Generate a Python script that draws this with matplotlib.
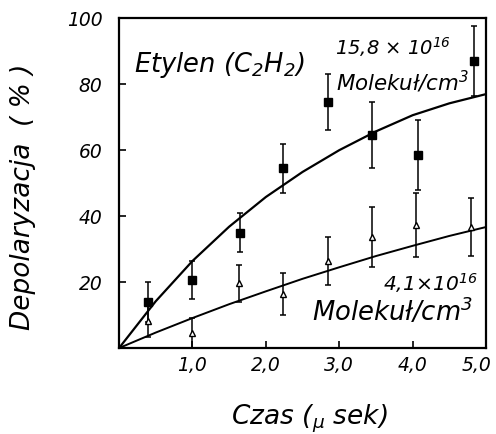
import matplotlib
matplotlib.use("Agg")
import matplotlib.pyplot as plt
from matplotlib.transforms import ScaledTranslation

# dane
czas_kw = [0.4, 1.0, 1.65, 2.23, 2.85, 3.45, 4.07, 4.84]
dep_kw = [14.0, 20.6, 35.0, 54.5, 74.5, 64.5, 58.5, 87.0]
err_kw = [6.0, 5.7, 6.0, 7.5, 8.5, 10.0, 10.5, 10.5]

czas_tr = [0.39, 1.0, 1.63, 2.23, 2.84, 3.45, 4.05, 4.8]
dep_tr = [8.2, 4.5, 19.7, 16.4, 26.4, 33.7, 37.3, 36.7]
err_tr = [4.8, 4.5, 5.6, 6.3, 7.2, 9.0, 9.6, 8.8]

czas_krz = [0.0, 0.5, 1.0, 1.5, 2.0, 2.5, 3.0, 3.5, 4.0, 4.5, 5.0]
krzywa_gora = [0.0, 14.2, 26.4, 36.8, 45.8, 53.4, 60.0, 65.7, 70.6, 74.2, 77.0]
krzywa_dol = [0.0, 4.7, 9.1, 13.3, 17.2, 21.0, 24.5, 27.9, 31.0, 34.0, 36.7]

xticks = [1, 2, 3, 4, 5]
xlabels = ["1,0", "2,0", "3,0", "4,0", "5,0"]
yticks = [20, 40, 60, 80, 100]

plt.rcParams["font.family"] = ["DejaVu Sans"]
plt.rcParams["font.style"] = "italic"
plt.rcParams["mathtext.fontset"] = "custom"
plt.rcParams["mathtext.rm"] = "DejaVu Sans:italic"
plt.rcParams["mathtext.it"] = "DejaVu Sans:italic"

fig = plt.figure(figsize=(4.96, 4.34), dpi=100)
ax = fig.add_axes([0.240, 0.198, 0.740, 0.760])

ax.plot(czas_krz, krzywa_gora, color="black", linewidth=1.6)
ax.plot(czas_krz, krzywa_dol, color="black", linewidth=1.4)

ax.errorbar(czas_kw, dep_kw, yerr=err_kw, fmt="s", color="black", markersize=6,
            elinewidth=1.1, capsize=2.5, capthick=1.1)
ax.errorbar(czas_tr, dep_tr, yerr=err_tr, fmt="^", color="black", mfc="white",
            markersize=5, elinewidth=1.1, capsize=2.5, capthick=1.1)

ax.set_xlim(0, 5)
ax.set_ylim(0, 100)
ax.set_xticks(xticks)
ax.set_xticklabels(xlabels)
ax.set_yticks(yticks)
ax.tick_params(direction="in", length=5, width=1.2, labelsize=13.5)
ax.tick_params(axis="x", pad=6)
ax.tick_params(axis="y", pad=12)
for s in ax.spines.values():
    s.set_linewidth(1.6)

# ostatnia etykieta troche w lewo, jak w oryginale
ostatnia = ax.get_xticklabels()[-1]
ostatnia.set_transform(ostatnia.get_transform() + ScaledTranslation(-10 / 100, 0, fig.dpi_scale_trans))

ax.set_xlabel(r"Czas ($_{μ}$ sek)", fontsize=19)
ax.xaxis.set_label_coords(0.52, -0.165)
ax.set_ylabel("Depolaryzacja  ( % )", fontsize=19)
ax.yaxis.set_label_coords(-0.225, 0.46)

ax.text(0.2, 85.8, r"Etylen (C$_2$H$_2$)", fontsize=18.5, va="center")
ax.text(2.94, 91.2, r"15,8 × 10$^{16}$", fontsize=14, va="center")
ax.text(2.96, 80.6, r"Molekuł/cm$^3$", fontsize=15.4, va="center")
ax.text(4.89, 19.7, r"4,1×10$^{16}$", fontsize=14.6, va="center", ha="right")
ax.text(4.82, 10.9, r"Molekuł/cm$^3$", fontsize=18.6, va="center", ha="right")

fig.savefig("out.png", dpi=100)
